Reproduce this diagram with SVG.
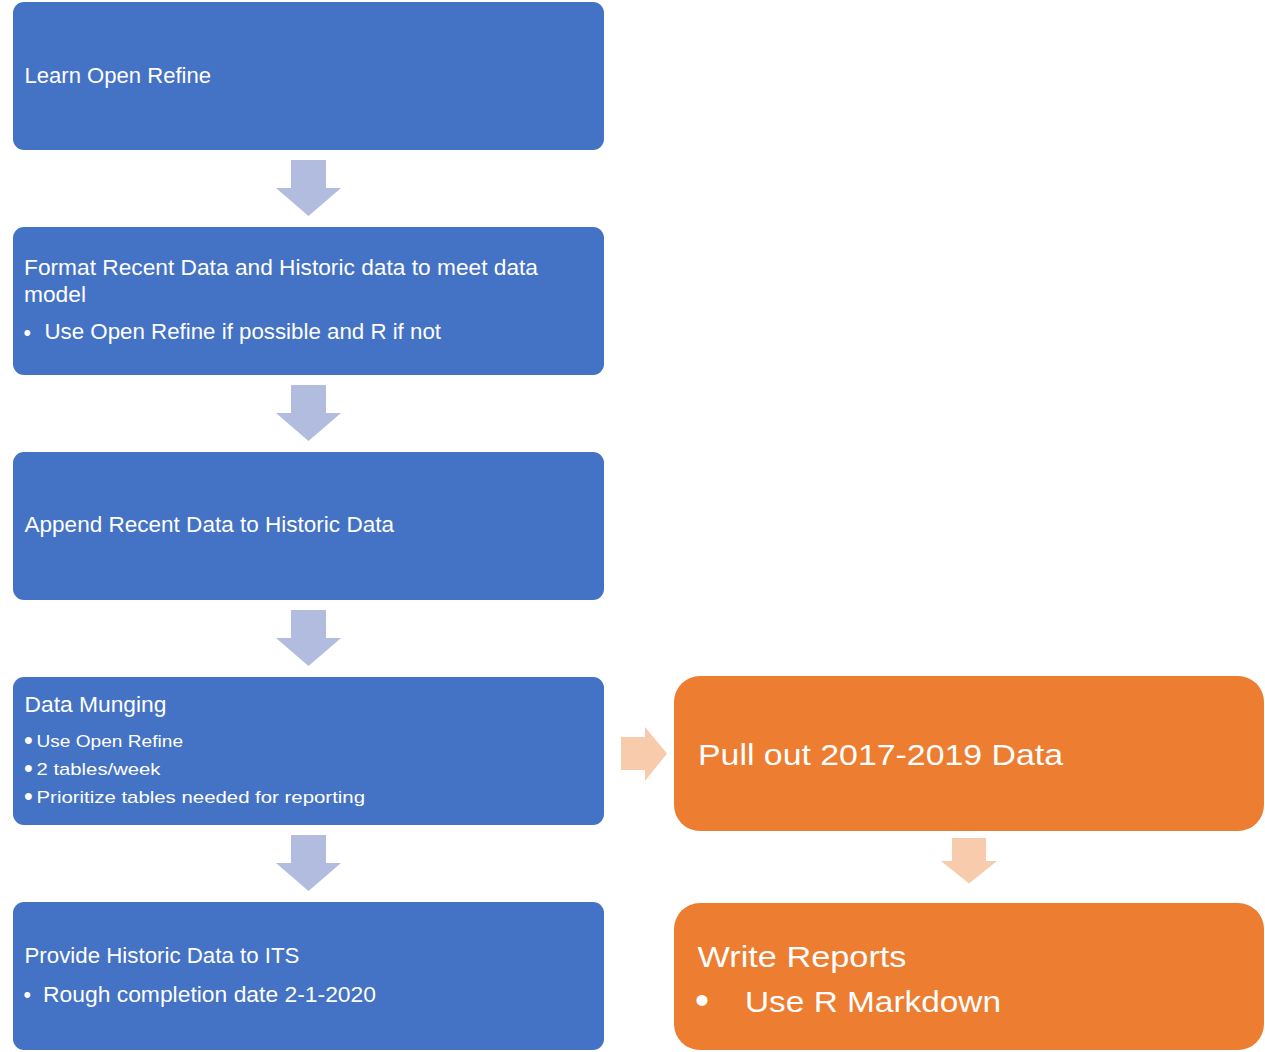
<svg xmlns="http://www.w3.org/2000/svg" width="1265" height="1052" viewBox="0 0 1265 1052">
<defs>
<style>
.bbox{fill:#4472C4;}
.obox{fill:#ED7D31;}
.barr{fill:#B1BCDF;}
.oarr{fill:#F8CBAD;}
text{fill:#FFFFFF;font-family:"Liberation Sans",Arial,sans-serif;}
.t{font-size:21.5px;}
.s{font-size:17px;}
.sb{font-size:25px;}
.o{font-size:29.5px;}
.ob{font-size:40px;}
</style>
<path id="darr" d="M291,160 H326 V188 H341 L308.5,216 L276,188 H291 Z"/>
</defs>
<rect width="1265" height="1052" fill="#FFFFFF"/>
<g id="connectors">
<use href="#darr" class="barr"/>
<use href="#darr" class="barr" transform="translate(0,225)"/>
<use href="#darr" class="barr" transform="translate(0,450)"/>
<use href="#darr" class="barr" transform="translate(0,675)"/>
<path class="oarr" d="M621,737 H645 V727 L667,753.5 L645,781 V770 H621 Z"/>
<path class="oarr" d="M952,838 H986 V861 H997 L969,883.5 L941,861 H952 Z"/>
</g>
<g id="n1">
<rect class="bbox" x="13" y="2" width="591" height="148" rx="11"/>
<text class="t" x="24.5" y="82.5" textLength="186.5" lengthAdjust="spacingAndGlyphs">Learn Open Refine</text>
</g>
<g id="n2">
<rect class="bbox" x="13" y="227" width="591" height="148" rx="11"/>
<text class="t" x="24" y="275" textLength="514" lengthAdjust="spacingAndGlyphs">Format Recent Data and Historic data to meet data</text>
<text class="t" x="24" y="302" textLength="62" lengthAdjust="spacingAndGlyphs">model</text>
<text class="t" x="23.5" y="339.5">•</text>
<text class="t" x="44.5" y="339" textLength="396.5" lengthAdjust="spacingAndGlyphs">Use Open Refine if possible and R if not</text>
</g>
<g id="n3">
<rect class="bbox" x="13" y="452" width="591" height="148" rx="11"/>
<text class="t" x="24.5" y="532" textLength="369.5" lengthAdjust="spacingAndGlyphs">Append Recent Data to Historic Data</text>
</g>
<g id="n4">
<rect class="bbox" x="13" y="677" width="591" height="148" rx="11"/>
<text class="t" x="24.5" y="712" textLength="142" lengthAdjust="spacingAndGlyphs">Data Munging</text>
<text class="sb" x="24" y="749">•</text>
<text class="s" x="36.5" y="747" textLength="146.5" lengthAdjust="spacingAndGlyphs">Use Open Refine</text>
<text class="sb" x="24" y="776.5">•</text>
<text class="s" x="36.5" y="774.5" textLength="124" lengthAdjust="spacingAndGlyphs">2 tables/week</text>
<text class="sb" x="24" y="805">•</text>
<text class="s" x="36.5" y="803" textLength="328.5" lengthAdjust="spacingAndGlyphs">Prioritize tables needed for reporting</text>
</g>
<g id="n5">
<rect class="bbox" x="13" y="902" width="591" height="148" rx="11"/>
<text class="t" x="24.5" y="963" textLength="275" lengthAdjust="spacingAndGlyphs">Provide Historic Data to ITS</text>
<text class="t" x="23.5" y="1002">•</text>
<text class="t" x="43" y="1001.5" textLength="333" lengthAdjust="spacingAndGlyphs">Rough completion date 2-1-2020</text>
</g>
<g id="n6">
<rect class="obox" x="674" y="676" width="590" height="155" rx="26"/>
<text class="o" x="698" y="764.5" textLength="365" lengthAdjust="spacingAndGlyphs">Pull out 2017-2019 Data</text>
</g>
<g id="n7">
<rect class="obox" x="674" y="903" width="590" height="147" rx="26"/>
<text class="o" x="697.5" y="966.5" textLength="209" lengthAdjust="spacingAndGlyphs">Write Reports</text>
<text class="ob" x="695" y="1014">•</text>
<text class="o" x="745" y="1011.5" textLength="256" lengthAdjust="spacingAndGlyphs">Use R Markdown</text>
</g>
</svg>
